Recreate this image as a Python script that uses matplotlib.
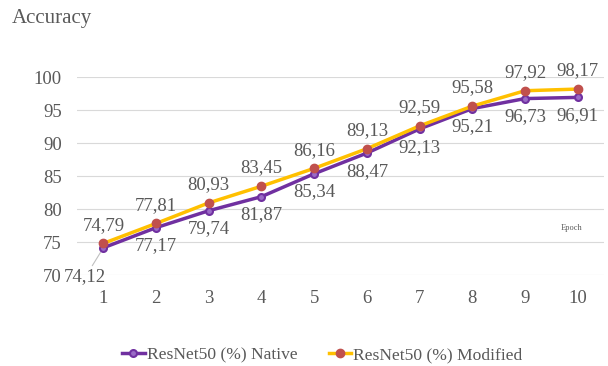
import matplotlib
matplotlib.use("Agg")
import matplotlib.pyplot as plt

epochs = [1, 2, 3, 4, 5, 6, 7, 8, 9, 10]
native = [74.12, 77.17, 79.74, 81.87, 85.34, 88.47, 92.13, 95.21, 96.73, 96.91]
modified = [74.79, 77.81, 80.93, 83.45, 86.16, 89.13, 92.59, 95.58, 97.92, 98.17]
yticks = [70, 75, 80, 85, 90, 95, 100]

plt.rcParams['font.family'] = ['Liberation Serif', 'DejaVu Serif']
txt = '#595959'

fig = plt.figure(figsize=(6.08, 3.66), dpi=100)
ax = fig.add_axes([77/608, 1-275/366, (604-77)/608, (275-77)/366])

x = list(range(len(epochs)))
ax.plot(x, native, color='#7030A0', lw=2.5, marker='o', ms=5,
        mfc='#9A6BC6', mec='#7030A0', mew=1.5, label='ResNet50 (%) Native', zorder=3)
ax.plot(x, modified, color='#FFC000', lw=2.5, marker='o', ms=6,
        mfc='#C0504D', mec='#C0504D', label='ResNet50 (%) Modified', zorder=4)

def fmt(v):
    return f"{v:.2f}".replace('.', ',')

fs = 13.5
for i, (n, m) in enumerate(zip(native, modified)):
    ax.annotate(fmt(m), (i, m), xytext=(0, 7), textcoords='offset points',
                ha='center', va='bottom', fontsize=fs, color=txt)
    if i == 0:
        ax.annotate(fmt(n), (i, n), xytext=(-13, -21), textcoords='offset points',
                    ha='center', va='center', fontsize=fs, color=txt,
                    arrowprops=dict(arrowstyle='-', color='#BFBFBF', lw=0.8,
                                    shrinkA=0, shrinkB=4))
    else:
        ax.annotate(fmt(n), (i, n), xytext=(0, -7), textcoords='offset points',
                    ha='center', va='top', fontsize=fs, color=txt)

ax.set_xlim(-0.5, len(epochs) - 0.5)
ax.set_ylim(70, 100)
ax.set_yticks(yticks)
ax.set_xticks(x)
ax.set_xticklabels([str(e) for e in epochs])
ax.tick_params(axis='both', length=0, labelsize=fs, labelcolor=txt)
ax.tick_params(axis='x', pad=11)
ax.tick_params(axis='y', pad=11)
ax.grid(axis='y', color='#D9D9D9', lw=0.8)
ax.set_axisbelow(True)
for s in ax.spines.values():
    s.set_visible(False)

fig.text(12/608, 1-18/366, 'Accuracy', fontsize=15, color=txt, va='center', ha='left')
fig.text(572/608, 1-228/366, 'Epoch', fontsize=6, color=txt, va='center', ha='center')

fig.legend(loc='center', bbox_to_anchor=(0.53, 1-355/366), ncol=2, frameon=False,
           fontsize=12.6, labelcolor=txt, handlelength=1.3, handletextpad=0.1,
           columnspacing=1.8)

fig.savefig('out.png', dpi=100)
